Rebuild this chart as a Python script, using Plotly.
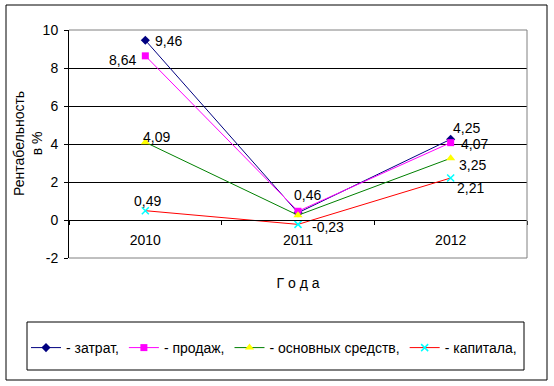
import plotly.graph_objects as go

years = ["2010", "2011", "2012"]
zatrat = [9.46, 0.38, 4.25]
prodazh = [8.64, 0.46, 4.07]
osn_sredstv = [4.09, 0.25, 3.25]
kapitala = [0.49, -0.23, 2.21]

names = ["- затрат,", "- продаж,", "- основных средств,", "- капитала,"]
y_ticks = [-2, 0, 2, 4, 6, 8, 10]
y_title = "Рентабельность<br>в %"
x_title = "Г о д а"

series = [zatrat, prodazh, osn_sredstv, kapitala]
line_colors = ["#000080", "#FF00FF", "#008000", "#FF0000"]
marker_colors = ["#000080", "#FF00FF", "#FFFF00", "#00FFFF"]
symbols = ["diamond", "square", "triangle-up", "x-thin"]
msizes = [7, 7, 8, 7]

# data-label placement (pixel offsets of label centre from the point); None = no label
label_offsets = [
    [(23, -1), None, (16, 11)],
    [(-23, -4), (9, 16), (24, -1)],
    [(11, 5), None, (22, -7)],
    [(2, 10), (30, -3), (20, -10)],
]

FONT = "Liberation Sans, Arial"
FS = 14

def fmt(v):
    return ("%.2f" % v).replace(".", ",")

fig = go.Figure()
annotations = []
for vals, nm, lc, mc, sym, ms, offs in zip(series, names, line_colors, marker_colors, symbols, msizes, label_offsets):
    fig.add_trace(go.Scatter(
        x=years, y=vals, name=nm, mode="lines+markers",
        line=dict(color=lc, width=1),
        marker=dict(color=mc, symbol=sym, size=ms,
                    line=dict(color=mc, width=1.5 if sym == "x-thin" else 0)),
    ))
    for i, (v, off) in enumerate(zip(vals, offs)):
        if off is None:
            continue
        annotations.append(dict(
            x=i, y=v, xref="x", yref="y", text=fmt(v), showarrow=False,
            xanchor="center", yanchor="middle", xshift=off[0], yshift=off[1],
            font=dict(family=FONT, size=FS, color="black"),
        ))

W, H = 554, 386
L, R, T, B = 69, 527, 30, 258
pw, ph = R - L, B - T

def px(x):
    return (x - L) / pw

def py(y):
    return (B - y) / ph

annotations.append(dict(
    x=px(28), y=0.5, xref="paper", yref="paper", text=y_title, showarrow=False,
    textangle=-90, xanchor="center", yanchor="middle",
    font=dict(family=FONT, size=FS, color="black"),
))

fig.update_layout(
    width=W, height=H,
    margin=dict(l=L, r=W - R, t=T, b=H - B, autoexpand=False),
    paper_bgcolor="white", plot_bgcolor="white",
    font=dict(family=FONT, size=FS, color="black"),
    showlegend=True,
    legend=dict(orientation="h", x=px(26), y=py(348), xanchor="left", yanchor="middle",
                font=dict(size=FS), bgcolor="rgba(0,0,0,0)", itemwidth=30),
    annotations=annotations,
    xaxis=dict(type="category", range=[-0.5, 2.5], anchor="free", position=py(220),
               showline=True, linecolor="black", linewidth=1,
               ticks="outside", ticklen=4, tickcolor="black", tickson="boundaries",
               ticklabelstandoff=7,
               showgrid=False, zeroline=False,
               tickfont=dict(size=FS),
               title=dict(text=x_title, font=dict(size=FS), standoff=31)),
    yaxis=dict(range=[-2, 10], tickvals=y_ticks, ticktext=[str(t) for t in y_ticks],
               showline=True, linecolor="black", linewidth=1,
               ticks="outside", ticklen=4, tickcolor="black",
               showgrid=True, gridcolor="black", gridwidth=1,
               zeroline=True, zerolinecolor="black", zerolinewidth=1,
               tickfont=dict(size=FS), ticklabelstandoff=3),
    shapes=[
        dict(type="line", xref="paper", yref="paper", x0=0, x1=1, y0=1, y1=1,
             line=dict(color="#808080", width=1)),
        dict(type="line", xref="paper", yref="paper", x0=1, x1=1, y0=0, y1=1,
             line=dict(color="#808080", width=1)),
        dict(type="line", xref="paper", yref="paper", x0=0, x1=1, y0=0, y1=0,
             line=dict(color="#808080", width=1)),
        dict(type="rect", xref="paper", yref="paper",
             x0=px(6), x1=px(547), y0=py(380), y1=py(5), line=dict(color="black", width=1)),
        dict(type="rect", xref="paper", yref="paper",
             x0=px(27), x1=px(524), y0=py(370), y1=py(322), line=dict(color="black", width=1)),
    ],
)

fig.write_html("out.html", config={"displayModeBar": False},
               post_script="document.body.style.margin='0';document.body.style.overflow='hidden';")
